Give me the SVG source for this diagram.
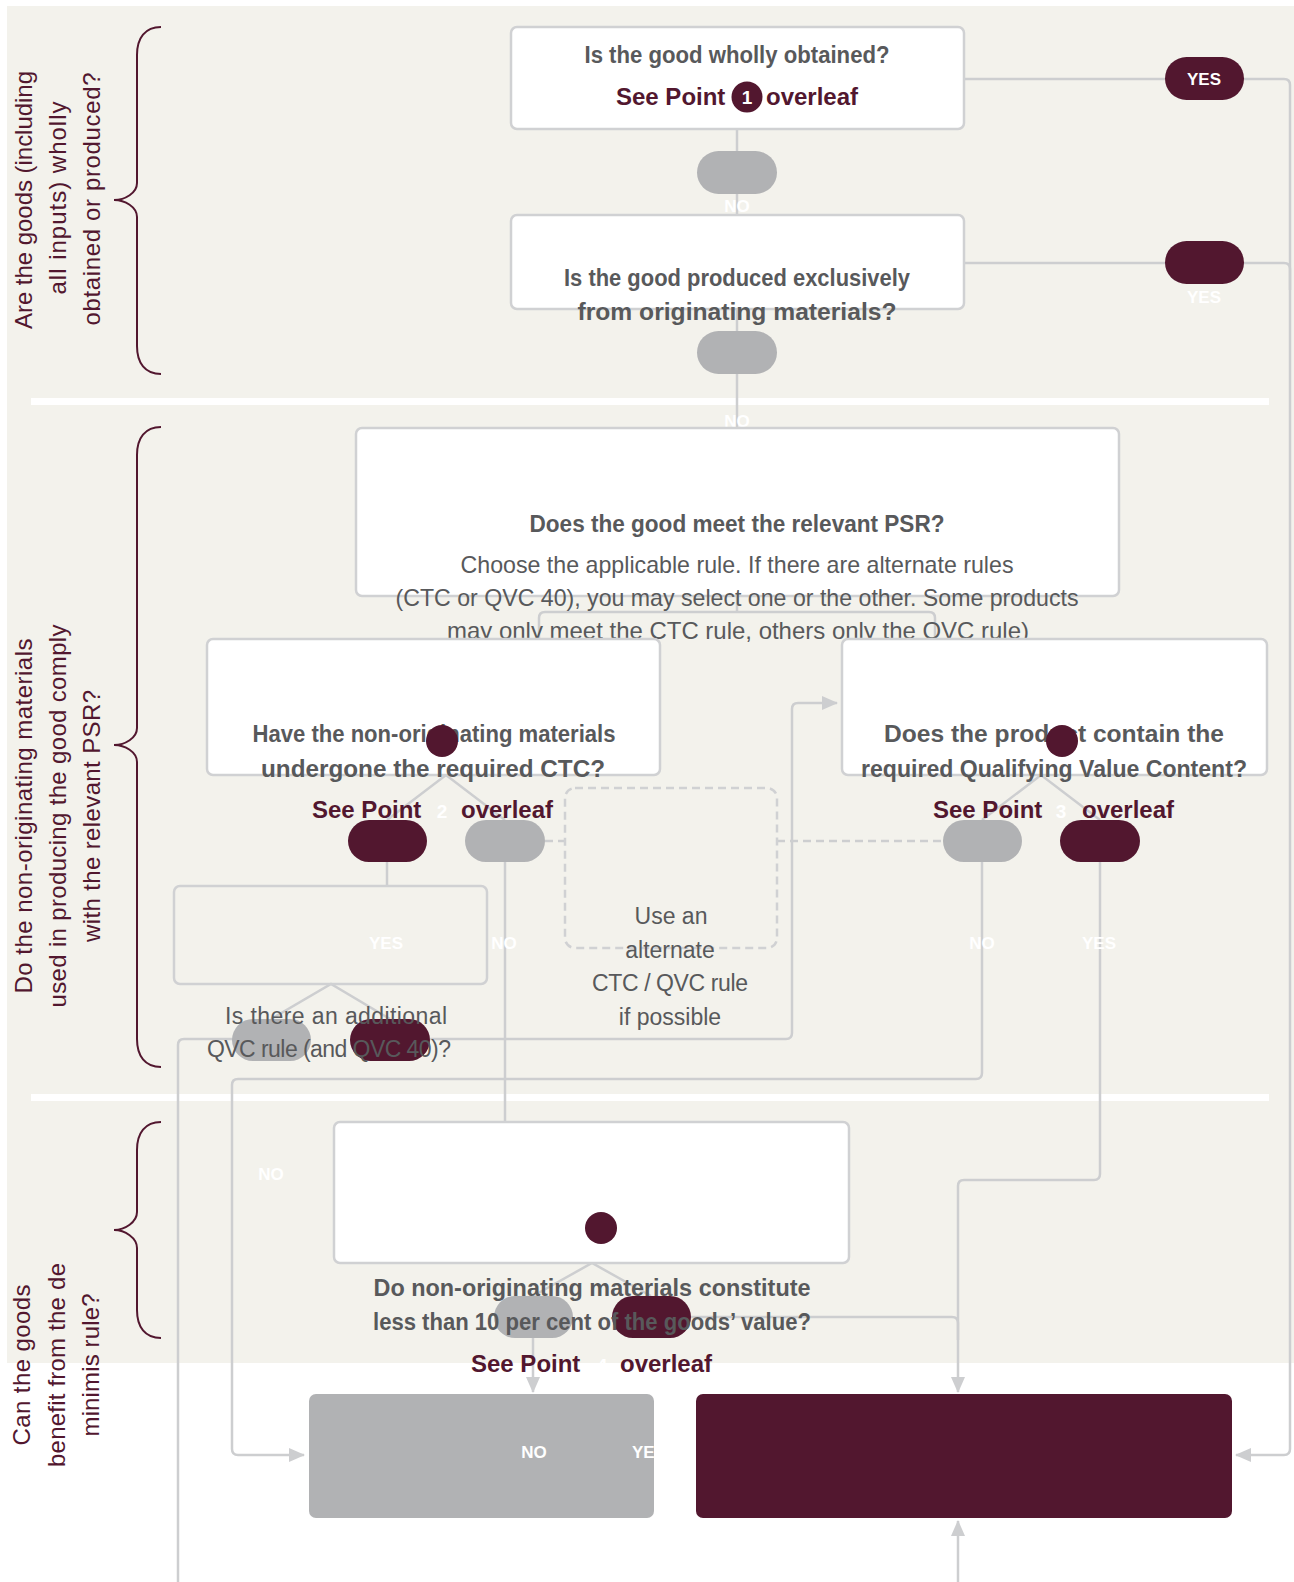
<svg xmlns="http://www.w3.org/2000/svg" width="1294" height="1582" viewBox="0 0 1294 1582">
<defs>
<style>
.q{font-family:"Liberation Sans",Arial,sans-serif;font-weight:bold;font-size:23px;fill:#58595B;text-anchor:middle}
.r{font-family:"Liberation Sans",Arial,sans-serif;font-size:23px;fill:#58595B;text-anchor:middle}
.r2{font-family:"Liberation Sans",Arial,sans-serif;font-size:24px;fill:#58595B;text-anchor:middle}
.sp{font-family:"Liberation Sans",Arial,sans-serif;font-weight:bold;font-size:24px;fill:#52172F}
.w{font-family:"Liberation Sans",Arial,sans-serif;font-weight:bold;font-size:17px;fill:#fff;text-anchor:middle}
.dg{font-family:"Liberation Sans",Arial,sans-serif;font-weight:bold;font-size:19px;fill:#fff;text-anchor:middle}
.side{font-family:"Liberation Sans",Arial,sans-serif;font-size:24px;fill:#52172F;text-anchor:middle}
.box{fill:#fff;stroke:#D0D1D3;stroke-width:2.5}
.obox{fill:none;stroke:#D0D1D3;stroke-width:2.5}
.dbox{fill:none;stroke:#D0D1D3;stroke-width:2.5;stroke-dasharray:8 5}
.pg{fill:#B1B2B4}
.pm{fill:#52172F}
.ln{fill:none;stroke:#CDCED0;stroke-width:2.5}
.dl{fill:none;stroke:#CDCED0;stroke-width:2.5;stroke-dasharray:8 5}
.ar{fill:none;stroke:#CDCED0;stroke-width:2.5;marker-end:url(#ah)}
.br{fill:none;stroke:#52172F;stroke-width:2}
</style>
<marker id="ah" markerUnits="userSpaceOnUse" markerWidth="16" markerHeight="14" refX="15" refY="7" orient="auto">
<path d="M0,0 L16,7 L0,14 Z" fill="#CDCED0"/>
</marker>
</defs>

<g id="background">
<rect x="7" y="6" width="1287" height="1357" fill="#F3F2EC"/>
<rect x="31" y="398" width="1238" height="7" fill="#fff"/>
<rect x="31" y="1094" width="1238" height="7" fill="#fff"/>
</g>

<g id="sections">
<path class="br" d="M161,27 C145,27 137,38 137,55 V183 C137,193 125,200 114,200 C125,200 137,207 137,217 V346 C137,363 145,374 161,374"/>
<text class="side" transform="translate(32,200) rotate(-90)" textLength="258">Are the goods (including</text>
<text class="side" transform="translate(66,198) rotate(-90)" textLength="193">all inputs) wholly</text>
<text class="side" transform="translate(100,199) rotate(-90)" textLength="253">obtained or produced?</text>

<path class="br" d="M161,427 C145,427 137,438 137,455 V728 C137,738 125,745 114,745 C125,745 137,752 137,762 V1039 C137,1056 145,1067 161,1067"/>
<text class="side" transform="translate(32,816) rotate(-90)" textLength="355">Do the non-originating materials</text>
<text class="side" transform="translate(66,816) rotate(-90)" textLength="383">used in producing the good comply</text>
<text class="side" transform="translate(100,816) rotate(-90)" textLength="252">with the relevant PSR?</text>

<path class="br" d="M161,1122 C145,1122 137,1133 137,1150 V1212 C137,1222 125,1230 114,1230 C125,1230 137,1238 137,1248 V1310 C137,1327 145,1338 161,1338"/>
<text class="side" transform="translate(30,1365) rotate(-90)" textLength="161">Can the goods</text>
<text class="side" transform="translate(65,1365) rotate(-90)" textLength="204">benefit from the de</text>
<text class="side" transform="translate(99,1365) rotate(-90)" textLength="143">minimis rule?</text>
</g>

<g id="connectors">
<path class="ln" d="M737,129 V215"/>
<path class="ln" d="M737,309 V428"/>
<path class="ar" d="M964,79 H1284 Q1290,79 1290,85 V1449 Q1290,1455 1284,1455 H1236"/>
<path class="ln" d="M964,263 H1284 Q1290,263 1290,269 V290"/>
<path class="ln" d="M737,596 V612"/>
<path class="ln" d="M539,640 V618 Q539,612 545,612 H929 Q935,612 935,618 V640"/>
<path class="ln" d="M387,820 L446,775 L505,820"/>
<path class="ln" d="M387,862 V886"/>
<path class="ln" d="M505,862 V1122"/>
<path class="dl" d="M545,841 H565"/>
<path class="dl" d="M777,841 H943"/>
<path class="ln" d="M982,820 L1041,775 L1100,820"/>
<path class="ar" d="M982,862 V1073 Q982,1079 976,1079 H238 Q232,1079 232,1085 V1449 Q232,1455 238,1455 H304"/>
<path class="ar" d="M1100,862 V1174 Q1100,1180 1094,1180 H964 Q958,1180 958,1186 V1392"/>
<path class="ln" d="M271,1019 L331,984 L390,1019"/>
<path class="ar" d="M430,1039 H786 Q792,1039 792,1033 V709 Q792,703 798,703 H837"/>
<path class="ln" d="M250,1039 H184 Q178,1039 178,1045 V1582"/>
<path class="ln" d="M533,1296 L592,1263 L651,1296"/>
<path class="ar" d="M533,1338 V1392"/>
<path class="ln" d="M691,1317 H952 Q958,1317 958,1323 V1340"/>
<path class="ar" d="M958,1582 V1521"/>
</g>

<g id="n-wholly">
<rect class="box" x="511" y="27" width="453" height="102" rx="6"/>
<text class="q" x="737" y="63" textLength="305" lengthAdjust="spacingAndGlyphs">Is the good wholly obtained?</text>
<text class="sp" x="616" y="105">See Point</text>
<circle cx="747" cy="97" r="15.5" fill="#52172F"/>
<text class="dg" x="747" y="104">1</text>
<text class="sp" x="766" y="105">overleaf</text>
</g>

<g id="p-no1">
<rect class="pg" x="697" y="151" width="80" height="43" rx="21.5"/>
<text class="w" x="737" y="212">NO</text>
</g>

<g id="p-yes1">
<rect class="pm" x="1165" y="57" width="79" height="43" rx="21.5"/>
<text class="w" x="1204" y="85">YES</text>
</g>

<g id="n-exclusive">
<rect class="box" x="511" y="215" width="453" height="94" rx="6"/>
<text class="q" x="737" y="286" textLength="346" lengthAdjust="spacingAndGlyphs">Is the good produced exclusively</text>
<text class="q" x="737" y="320" textLength="319" lengthAdjust="spacingAndGlyphs">from originating materials?</text>
</g>

<g id="p-no2">
<rect class="pg" x="697" y="331" width="80" height="43" rx="21.5"/>
<text class="w" x="737" y="427">NO</text>
</g>

<g id="p-yes2">
<rect class="pm" x="1165" y="241" width="79" height="43" rx="21.5"/>
<text class="w" x="1204" y="303">YES</text>
</g>

<g id="n-psr">
<rect class="box" x="356" y="428" width="763" height="168" rx="6"/>
<text class="q" x="737" y="532" textLength="415" lengthAdjust="spacingAndGlyphs">Does the good meet the relevant PSR?</text>
<text class="r2" x="737" y="573" textLength="553" lengthAdjust="spacingAndGlyphs">Choose the applicable rule. If there are alternate rules</text>
<text class="r2" x="737" y="606" textLength="683" lengthAdjust="spacingAndGlyphs">(CTC or QVC 40), you may select one or the other. Some products</text>
<text class="r2" x="738" y="639" textLength="582" lengthAdjust="spacingAndGlyphs">may only meet the CTC rule, others only the QVC rule)</text>
</g>

<g id="n-ctc">
<rect class="box" x="207" y="639" width="453" height="136" rx="6"/>
<text class="q" x="434" y="742" textLength="363" lengthAdjust="spacingAndGlyphs">Have the non-originating materials</text>
<text class="q" x="433" y="777" textLength="344" lengthAdjust="spacingAndGlyphs">undergone the required CTC?</text>
<circle cx="442" cy="741" r="16" fill="#52172F"/>
<text class="sp" x="312" y="818">See Point</text>
<text class="dg" x="442" y="818">2</text>
<text class="sp" x="461" y="818">overleaf</text>
</g>

<g id="p-ctc-yes">
<rect class="pm" x="348" y="820" width="79" height="42" rx="21"/>
<text class="w" x="386" y="949">YES</text>
</g>
<g id="p-ctc-no">
<rect class="pg" x="465" y="820" width="80" height="42" rx="21"/>
<text class="w" x="504" y="949">NO</text>
</g>

<g id="n-alternate">
<rect class="dbox" x="565" y="788" width="212" height="160" rx="10"/>
<text class="r" x="671" y="924">Use an</text>
<text class="r" x="670" y="958">alternate</text>
<text class="r" x="670" y="991" textLength="156">CTC / QVC rule</text>
<text class="r" x="670" y="1025">if possible</text>
</g>

<g id="n-qvc">
<rect class="box" x="842" y="639" width="425" height="136" rx="6"/>
<text class="q" x="1054" y="742" textLength="340" lengthAdjust="spacingAndGlyphs">Does the product contain the</text>
<text class="q" x="1054" y="777" textLength="386" lengthAdjust="spacingAndGlyphs">required Qualifying Value Content?</text>
<circle cx="1062" cy="741" r="16" fill="#52172F"/>
<text class="sp" x="933" y="818">See Point</text>
<text class="dg" x="1061" y="818">3</text>
<text class="sp" x="1082" y="818">overleaf</text>
</g>

<g id="p-qvc-no">
<rect class="pg" x="943" y="820" width="79" height="42" rx="21"/>
<text class="w" x="982" y="949">NO</text>
</g>
<g id="p-qvc-yes">
<rect class="pm" x="1060" y="820" width="80" height="42" rx="21"/>
<text class="w" x="1099" y="949">YES</text>
</g>

<g id="n-additional">
<rect class="obox" x="174" y="886" width="313" height="98" rx="6"/>
<rect class="pg" x="232" y="1019" width="79" height="42" rx="21"/>
<rect class="pm" x="350" y="1019" width="80" height="42" rx="21"/>
<text class="r" x="336" y="1024" textLength="222">Is there an additional</text>
<text class="r" x="329" y="1057" textLength="244">QVC rule (and QVC 40)?</text>
<text class="w" x="271" y="1180">NO</text>
</g>

<g id="n-deminimis">
<rect class="box" x="334" y="1122" width="515" height="141" rx="6"/>
<circle cx="601" cy="1228" r="16" fill="#52172F"/>
<rect class="pg" x="494" y="1296" width="79" height="42" rx="21"/>
<rect class="pm" x="612" y="1296" width="79" height="42" rx="21"/>
<text class="q" x="592" y="1296" textLength="437" lengthAdjust="spacingAndGlyphs">Do non-originating materials constitute</text>
<text class="q" x="592" y="1330" textLength="438" lengthAdjust="spacingAndGlyphs">less than 10 per cent of the goods’ value?</text>
<text class="sp" x="471" y="1372">See Point</text>
<text class="dg" x="602" y="1372">4</text>
<text class="sp" x="620" y="1372">overleaf</text>
</g>

<g id="r-no">
<rect class="pg" x="309" y="1394" width="345" height="124" rx="7"/>
<text class="w" x="534" y="1458">NO</text>
<text class="w" x="649" y="1458">YES</text>
</g>

<g id="r-yes">
<rect class="pm" x="696" y="1394" width="536" height="124" rx="7"/>
</g>
</svg>
